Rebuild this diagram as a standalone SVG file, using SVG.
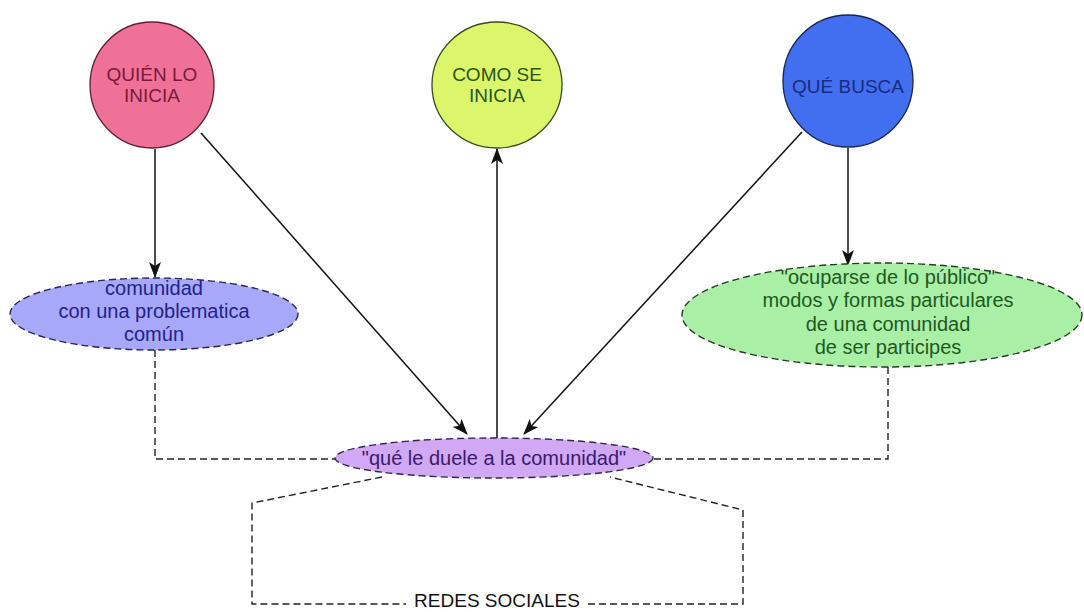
<svg xmlns="http://www.w3.org/2000/svg" width="1084" height="612" viewBox="0 0 1084 612">
<style>
text{font-family:"Liberation Sans",Arial,sans-serif;font-size:19px;text-anchor:middle}
.big{font-size:20px}
.arrow{stroke:#111;stroke-width:1.5;fill:none;marker-end:url(#ah)}
.dash{stroke:#222;stroke-width:1.4;fill:none;stroke-dasharray:7,4}
.nd{stroke-dasharray:7,4;stroke-width:1.4}
</style>
<defs>
<marker id="ah" markerWidth="16" markerHeight="12" refX="15" refY="6" orient="auto" markerUnits="userSpaceOnUse">
<path d="M0,0 L16,6 L0,12 L4,6 z" fill="#111"/>
</marker>
</defs>
<rect width="1084" height="612" fill="#fff"/>
<g id="connectors">
<line class="arrow" x1="155" y1="149" x2="155" y2="277"/>
<line class="arrow" x1="201" y1="133" x2="467" y2="434"/>
<line class="arrow" x1="497" y1="439" x2="497" y2="149"/>
<line class="arrow" x1="802" y1="132" x2="524" y2="434"/>
<line class="arrow" x1="848" y1="148" x2="848" y2="265"/>
<polyline class="dash" points="155,350 155,459 335,459"/>
<polyline class="dash" points="888,367 888,459 653,459"/>
<polyline class="dash" points="382,477 252,503 252,604 406,604"/>
<polyline class="dash" points="588,604 743,604 743,510 610,477"/>
<text x="497" y="607" font-size="18" fill="#111">REDES SOCIALES</text>
</g>
<g id="quien">
<ellipse cx="152" cy="85" rx="62" ry="63" fill="#EF7198" stroke="#5a2030" stroke-width="1.3"/>
<text x="152" y="81" fill="#7a1a3a">QUIÉN LO</text>
<text x="152" y="102" fill="#7a1a3a">INICIA</text>
</g>
<g id="como">
<ellipse cx="497" cy="85" rx="65" ry="63" fill="#DCF66C" stroke="#3a4a20" stroke-width="1.3"/>
<text x="497" y="81" fill="#2a5418">COMO SE</text>
<text x="497" y="102" fill="#2a5418">INICIA</text>
</g>
<g id="busca">
<ellipse cx="848" cy="81" rx="65" ry="66" fill="#416FF0" stroke="#1a2450" stroke-width="1.3"/>
<text x="848" y="93" fill="#1a2a80">QUÉ BUSCA</text>
</g>
<g id="comunidad">
<ellipse class="nd" cx="154" cy="314" rx="144" ry="36" fill="#A8A8F8" stroke="#262650"/>
<text class="big" x="154" y="295" fill="#22228a">comunidad</text>
<text class="big" x="154" y="318" fill="#22228a">con una problematica</text>
<text class="big" x="154" y="341" fill="#22228a">común</text>
</g>
<g id="ocuparse">
<ellipse class="nd" cx="882" cy="315" rx="200" ry="52" fill="#AAEFA6" stroke="#263a26"/>
<text class="big" x="888" y="284" fill="#1e5a1e">"ocuparse de lo público"</text>
<text class="big" x="888" y="307" fill="#1e5a1e">modos y formas particulares</text>
<text class="big" x="888" y="331" fill="#1e5a1e">de una comunidad</text>
<text class="big" x="888" y="354" fill="#1e5a1e">de ser participes</text>
</g>
<g id="duele">
<ellipse class="nd" cx="494" cy="458" rx="159" ry="20" fill="#D0A8F4" stroke="#33264a"/>
<text class="big" x="494" y="465" fill="#3a1a6a">"qué le duele a la comunidad"</text>
</g>
</svg>
